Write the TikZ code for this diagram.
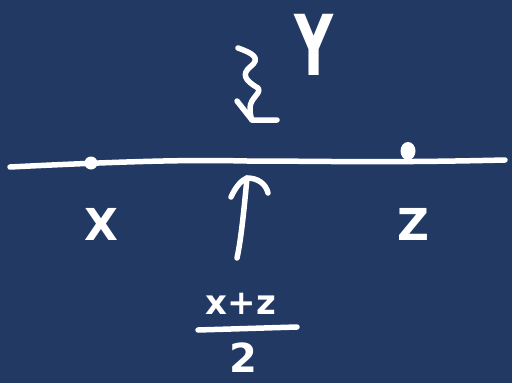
\documentclass[tikz,border=0pt]{standalone}
\usepackage{fontspec}
\setmainfont{DejaVu Sans}
\usetikzlibrary{arrows.meta}
\definecolor{bg}{RGB}{33,57,99}
\begin{document}
\begin{tikzpicture}[x=1pt,y=-1pt,
  ink/.style={draw=white,line width=5.5pt,line cap=round,line join=round},
  lbl/.style={text=white,inner sep=0pt,font=\bfseries\fontsize{44}{44}\selectfont},
  dotmark/.style={fill=white,circle,inner sep=0pt,minimum size=13pt}]
\fill[bg] (0,0) rectangle (512,383);
\useasboundingbox (0,0) rectangle (512,383);
% axis line
\coordinate (L) at (10,167);
\coordinate (R) at (505,160);
\coordinate (M) at (247,161);
\draw[ink] (L) .. controls (150,160) and (200,160) .. (M)
  .. controls (320,161) and (380,163) .. (R);
% points
\node[dotmark] (px) at (91,163) {};
\node[dotmark,minimum size=15pt,yscale=1.2] (pz) at (408,151) {};
% labels
\node[lbl] (X) at (101,224) {X};
\node[lbl] (Z) at (413,224) {Z};
\node[lbl,font=\bfseries\fontsize{60}{60}\selectfont,yscale=1.4,xscale=0.9] (Y) at (314,45) {Y};
% squiggle arrow to the line
\coordinate (s0) at (238,48);
\coordinate (s1) at (252,120);
\draw[ink] (s0) .. controls (252,53) and (262,58) .. (250,67)
  .. controls (242,74) and (244,80) .. (258,88)
  .. controls (262,93) and (250,98) .. (250,108)
  .. controls (250,114) and (251,118) .. (s1);
\draw[ink] (237,101) -- (s1) -- (277,120);
% fraction
\node[lbl,font=\bfseries\fontsize{34}{34}\selectfont] (num) at (241,304) {x+z};
\draw[ink] (198,330) -- (297,327) coordinate (barR);
\node[lbl,font=\bfseries\fontsize{40}{40}\selectfont] (den) at (243,358) {2};
% up arrow
\coordinate (tip) at (247,178);
\draw[ink] (237,258) .. controls (241,240) and (244,210) .. (tip);
\draw[ink] (231,197) .. controls (236,186) and (242,180) .. (tip)
  .. controls (258,178) and (266,184) .. (268,193);
\end{tikzpicture}
\end{document}
